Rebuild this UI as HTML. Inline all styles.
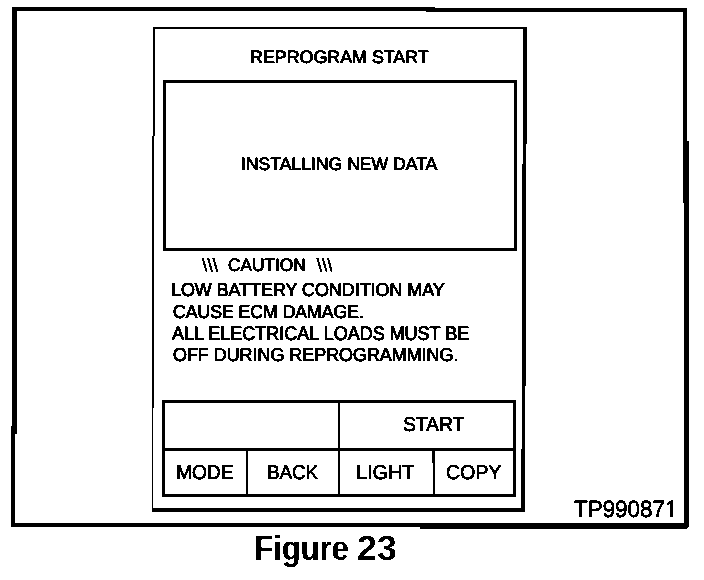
<!DOCTYPE html>
<html>
<head>
<meta charset="utf-8">
<title>Figure 23</title>
<style>
html,body{margin:0;padding:0;background:#fff;}
body{width:704px;height:580px;overflow:hidden;font-family:"Liberation Sans",sans-serif;}
svg{display:block;}
svg text{font-family:"Liberation Sans",sans-serif;fill:#000;stroke:#000;stroke-linejoin:round;white-space:pre;}
</style>
</head>
<body>
<svg width="704" height="580" viewBox="0 0 704 580" shape-rendering="crispEdges" text-rendering="geometricPrecision">
<defs>
<!-- threshold everything to pure black/white, like the bilevel scan -->
<filter id="bw" x="0" y="0" width="704" height="580" filterUnits="userSpaceOnUse" color-interpolation-filters="sRGB">
<feColorMatrix type="matrix" values="0.3333 0.3333 0.3333 0 0  0.3333 0.3333 0.3333 0 0  0.3333 0.3333 0.3333 0 0  0 0 0 1 0"/>
<feComponentTransfer>
<feFuncR type="discrete" tableValues="0 1"/>
<feFuncG type="discrete" tableValues="0 1"/>
<feFuncB type="discrete" tableValues="0 1"/>
</feComponentTransfer>
</filter>
<!-- slight erosion for the bold caption -->
<filter id="er" x="0" y="0" width="704" height="580" filterUnits="userSpaceOnUse" color-interpolation-filters="sRGB">
<feComponentTransfer><feFuncA type="discrete" tableValues="0 0 0 0 0 0 0 0 0 0 0 0 0 0 0 1"/></feComponentTransfer>
</filter>
</defs>
<g filter="url(#bw)">
<rect x="0" y="0" width="704" height="580" fill="#fff"/>
<g id="shapes" fill="#000">
<!-- outer heavy frame (pieces reproduce slight steps of the scanned original) -->
<rect x="12" y="7" width="423" height="4"/>
<rect x="426" y="8" width="261" height="4"/>
<rect x="12" y="7" width="5" height="427"/>
<rect x="11" y="426" width="4" height="101"/>
<rect x="683" y="8" width="4" height="134"/>
<rect x="683" y="141" width="6" height="62"/>
<polygon points="684,200 689,200 689,526 686,529 684,529"/>
<rect x="11" y="523" width="410" height="4"/>
<polygon points="420,523 689,523 689,526 686,529 420,529"/>
<!-- device frame: thin left/top, heavy right/bottom -->
<rect x="153" y="27" width="374" height="2"/>
<polygon points="153,27 155,27 154,250 153.2,512 152,512 152,250"/>
<polygon points="523,27 527,27 525,512 521.3,512"/>
<rect x="152" y="508" width="373" height="4"/>
<!-- display box -->
<rect x="164.5" y="81.5" width="351" height="168" fill="none" stroke="#000" stroke-width="3"/>
<!-- button table -->
<rect x="163.5" y="401.5" width="351" height="94" fill="none" stroke="#000" stroke-width="3"/>
<rect x="163" y="448" width="352" height="3"/>
<rect x="338" y="402" width="2" height="93"/>
<rect x="246" y="449" width="2" height="46"/>
<rect x="433" y="449" width="2" height="46"/>
<rect x="432" y="449" width="1" height="14"/>
</g>
<g id="labels" xml:space="preserve">
<g class="tx" font-size="17.95" font-weight="normal" stroke-width="0.35"><text id="t0" x="249.76" y="63" textLength="178.73" lengthAdjust="spacingAndGlyphs">REPROGRAM START</text><use href="#t0" x="0.50"/></g>
<g class="tx" font-size="17.95" font-weight="normal" stroke-width="0.35"><text id="t1" x="240.77" y="170" textLength="196.32" lengthAdjust="spacingAndGlyphs">INSTALLING NEW DATA</text><use href="#t1" x="0.50"/></g>
<g class="tx" font-size="17.95" font-weight="normal" stroke-width="0.15"><text id="t2" x="201.88" y="271" textLength="15.86" lengthAdjust="spacingAndGlyphs">\\\</text><use href="#t2" x="0.24"/></g>
<g class="tx" font-size="17.95" font-weight="normal" stroke-width="0.35"><text id="t3" x="227.75" y="271" textLength="77.69" lengthAdjust="spacingAndGlyphs">CAUTION</text><use href="#t3" x="0.50"/></g>
<g class="tx" font-size="17.95" font-weight="normal" stroke-width="0.15"><text id="t4" x="316.50" y="271" textLength="15.86" lengthAdjust="spacingAndGlyphs">\\\</text><use href="#t4" x="0.24"/></g>
<g class="tx" font-size="18.7" font-weight="normal" stroke-width="0.35"><text id="t5" x="170.79" y="296" textLength="273.68" lengthAdjust="spacingAndGlyphs">LOW BATTERY CONDITION MAY</text><use href="#t5" x="0.50"/></g>
<g class="tx" font-size="18.7" font-weight="normal" stroke-width="0.35"><text id="t6" x="172.75" y="318" textLength="190.90" lengthAdjust="spacingAndGlyphs">CAUSE ECM DAMAGE.</text><use href="#t6" x="0.50"/></g>
<g class="tx" font-size="19.6" font-weight="normal" stroke-width="0.35"><text id="t7" x="171.75" y="340" textLength="297.28" lengthAdjust="spacingAndGlyphs">ALL ELECTRICAL LOADS MUST BE</text><use href="#t7" x="0.50"/></g>
<g class="tx" font-size="18.7" font-weight="normal" stroke-width="0.35"><text id="t8" x="172.75" y="361" textLength="285.43" lengthAdjust="spacingAndGlyphs">OFF DURING REPROGRAMMING.</text><use href="#t8" x="0.50"/></g>
<g class="tx" font-size="19.9" font-weight="normal" stroke-width="0.3"><text id="t9" x="402.88" y="431" textLength="61.33" lengthAdjust="spacingAndGlyphs">START</text><use href="#t9" x="0.30"/></g>
<g class="tx" font-size="19.9" font-weight="normal" stroke-width="0.3"><text id="t10" x="175.88" y="479" textLength="57.63" lengthAdjust="spacingAndGlyphs">MODE</text><use href="#t10" x="0.30"/></g>
<g class="tx" font-size="19.9" font-weight="normal" stroke-width="0.3"><text id="t11" x="266.91" y="479" textLength="51.11" lengthAdjust="spacingAndGlyphs">BACK</text><use href="#t11" x="0.30"/></g>
<g class="tx" font-size="19.9" font-weight="normal" stroke-width="0.3"><text id="t12" x="355.85" y="479" textLength="58.58" lengthAdjust="spacingAndGlyphs">LIGHT</text><use href="#t12" x="0.30"/></g>
<g class="tx" font-size="19.9" font-weight="normal" stroke-width="0.3"><text id="t13" x="445.87" y="479" textLength="55.35" lengthAdjust="spacingAndGlyphs">COPY</text><use href="#t13" x="0.30"/></g>
<g class="tx" font-size="23.6" font-weight="normal" stroke-width="0.65"><text id="t14" x="574.00" y="517" textLength="103.45" lengthAdjust="spacingAndGlyphs">TP990871</text></g>
<g class="tx" font-size="35.0" font-weight="bold" stroke-width="0.0" filter="url(#er)"><text id="t15" x="253.68" y="560" textLength="94.61" lengthAdjust="spacingAndGlyphs">Figure</text><use href="#t15" x="1.10"/></g>
<g class="tx" font-size="35.0" font-weight="bold" stroke-width="0.0" filter="url(#er)"><text id="t16" x="356.57" y="560" textLength="40.02" lengthAdjust="spacingAndGlyphs">23</text><use href="#t16" x="0.80"/></g>
</g>
<g id="mask" fill="#fff">
<rect x="664.5" y="514" width="5.4" height="5"/>
<rect x="672.9" y="514" width="6" height="5"/>
</g>
</g>
</svg>
</body>
</html>
